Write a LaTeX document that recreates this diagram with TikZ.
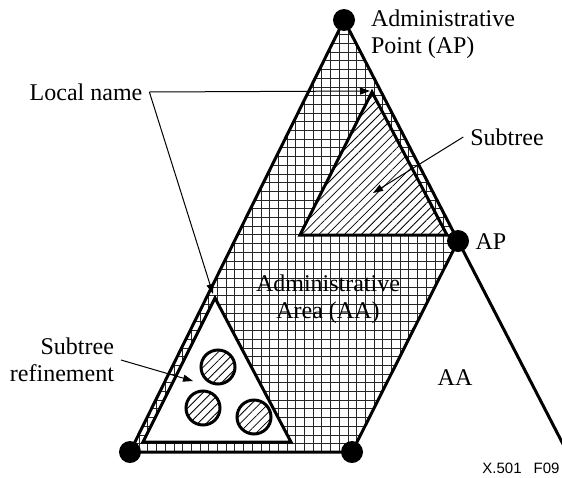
\documentclass[tikz,border=0pt]{standalone}
\usepackage{fontspec}
\setmainfont{Liberation Serif}
\setsansfont{Liberation Sans}
\usetikzlibrary{positioning,arrows.meta,patterns.meta}

\begin{document}
\begin{tikzpicture}[
      x=0.5pt, y=-0.5pt,
      every node/.style={align=center, font=\fontsize{12}{13.5}\selectfont},
      edge/.style={line width=1.5pt, line join=miter},
      gridline/.style={line width=0.45pt, black!85, step=4.35pt},
      hatched/.style={preaction={fill=white}, pattern={Lines[angle=45,distance=3pt,line width=0.4pt]}},
      apdot/.style={circle, fill=black, inner sep=0pt, minimum size=11pt},
      entry/.style={circle, draw, line width=1.5pt, minimum size=17pt, inner sep=0pt, hatched},
      arrow/.style={line width=0.5pt, -{Triangle[length=5pt,width=3.5pt]}}
    ]
      \useasboundingbox (0,0) rectangle (562,477);

      % corners of the areas
      \coordinate (top) at (344,20);
      \coordinate (apR) at (458,241);
      \coordinate (bl) at (130,452);
      \coordinate (br) at (352,452);
      \coordinate (rend) at (580,477);

      % administrative area
      \begin{scope}
        \clip (top) -- (apR) -- (br) -- (bl) -- cycle;
        \draw[gridline] (100,0) grid (480,477);
      \end{scope}

      % subtree and subtree refinement
      \coordinate (stTop) at (372,92);
      \coordinate (stLeft) at (300,235);
      \coordinate (stRight) at (447,235);
      \coordinate (rfTop) at (215,298);
      \coordinate (rfLeft) at (143,442);
      \coordinate (rfRight) at (291,442);
      \draw[edge, hatched] (stTop) -- (stRight) -- (stLeft) -- cycle;
      \draw[edge, fill=white] (rfTop) -- (rfRight) -- (rfLeft) -- cycle;
      \node[entry] (e1) at (218,367) {};
      \node[entry] (e2) at (203,408) {};
      \node[entry] (e3) at (254,417) {};

      % outlines
      \draw[edge] (bl) -- (top) -- (rend);
      \draw[edge] (bl) -- (br) -- (apR);

      % points
      \node[apdot] (ap) at (top) {};
      \node[apdot] (ap2) at (apR) {};
      \node[apdot] (p1) at (bl) {};
      \node[apdot] (p2) at (br) {};

      % Labels
      \node[anchor=west, align=left] (aptext) at (364,34) {Administrative\\Point (AP)};
      \node (ap2text) at (491,242) {AP};
      \node (aatext) at (328,299) {Administrative\\Area (AA)};
      \node (aa2text) at (455,378) {AA};
      \node (local) at (86,92) {Local name};
      \node (subtree) at (507,137) {Subtree};
      \node[anchor=east, align=right] (refine) at (121,360) {Subtree\\refinement};
      \node[font=\sffamily\fontsize{7.5}{9}\selectfont, anchor=west, inner sep=0pt] (fig) at (482,468) {X.501\hspace{0.8em}F09};

      \coordinate (lnTip1) at (370,91);
      \coordinate (lnTip2) at (213,294);
      \coordinate (stTip) at (373,193);
      \coordinate (rfTip) at (193,381);
      \draw[arrow] (local.east) -- (lnTip1);
      \draw[arrow] (local.east) -- (lnTip2);
      \draw[arrow] (subtree.west) -- (stTip);
      \draw[arrow] (refine.east) -- (rfTip);

    \end{tikzpicture}
\end{document}
